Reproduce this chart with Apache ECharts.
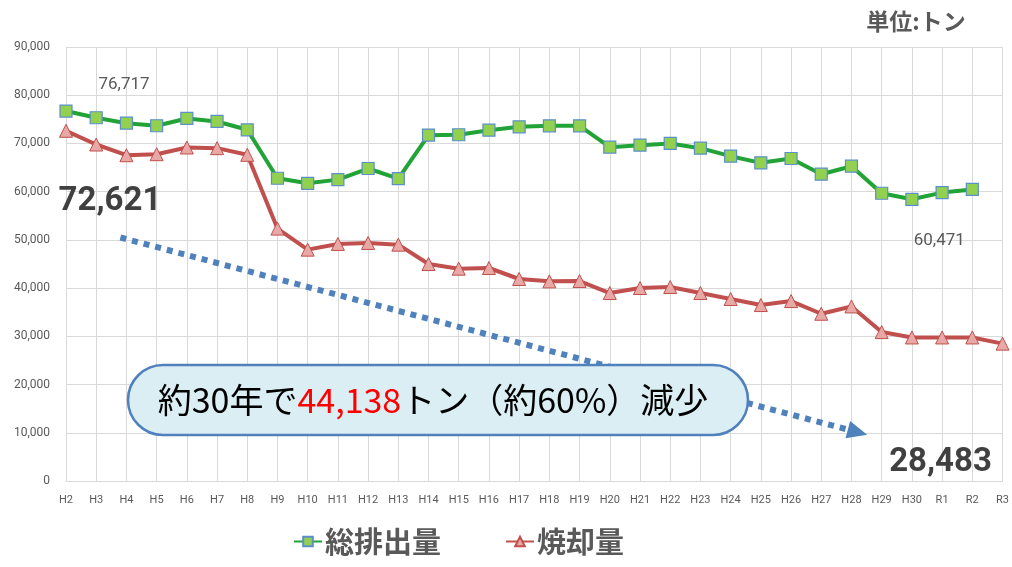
<!DOCTYPE html>
<html>
<head>
<meta charset="utf-8">
<script src="https://cdn.jsdelivr.net/npm/echarts@6/dist/echarts.min.js"></script>
<style>html,body{margin:0;padding:0;background:#fff}#c{width:1012px;height:567px}</style>
</head>
<body>
<div id="c"></div>
<script>
var categories = ['H2','H3','H4','H5','H6','H7','H8','H9','H10','H11','H12','H13','H14','H15','H16','H17','H18','H19','H20','H21','H22','H23','H24','H25','H26','H27','H28','H29','H30','R1','R2','R3'];
var totalEmission = [76717,75330,74200,73670,75180,74560,72830,62780,61740,62500,64800,62720,71720,71800,72750,73450,73660,73660,69230,69650,70000,69020,67360,65980,66880,63620,65280,59670,58420,59810,60471,null];
var incineration = [72621,69780,67560,67770,69160,69020,67640,52340,47980,49160,49370,49010,45000,44030,44170,41890,41400,41470,38980,40020,40230,38980,37740,36490,37320,34680,36200,30880,29770,29770,29770,28483];
var yTicks = {min:0, max:90000, interval:10000};

var FONT = '"Noto Sans CJK JP", "Noto Sans", sans-serif';
var chart = echarts.init(document.getElementById('c'), null, {renderer:'canvas'});

function labelled(arr, idxMap) {
  return arr.map(function(v, i){
    if (idxMap[i]) return {value: v, label: idxMap[i]};
    return v;
  });
}
var fmt = function(p){return p.value.toLocaleString('en-US');};
var smallLbl = {show:true, position:'inside', color:'#595959', fontSize:17, fontFamily:'Roboto, sans-serif', formatter:fmt};
var bigLbl = {show:true, position:'inside', color:'#404040', fontSize:33, fontWeight:'bold', fontFamily:'Roboto, sans-serif', formatter:fmt};

var greenMap = {};
greenMap[0] = Object.assign({}, smallLbl, {offset:[58,-26]});
greenMap[30] = Object.assign({}, smallLbl, {offset:[-33,51]});
var redMap = {};
redMap[0] = Object.assign({}, bigLbl, {offset:[44,71]});
redMap[31] = Object.assign({}, bigLbl, {offset:[-62,119]});

chart.setOption({
  animation:false,
  backgroundColor:'#fff',
  grid:{left:66, right:9, top:47, bottom:86, containLabel:false},
  legend:{
    bottom:6, left:288, itemGap:64, itemWidth:28, itemHeight:12,
    textStyle:{fontSize:29, color:'#595959', fontFamily:FONT, fontWeight:'bold', padding:[0,0,0,-2]},
    data:['総排出量','焼却量']
  },
  xAxis:{
    type:'category', data:categories, boundaryGap:false,
    axisLine:{show:true, lineStyle:{color:'#d9d9d9'}},
    axisTick:{show:false},
    axisLabel:{color:'#595959', fontSize:11, fontFamily:'Roboto, sans-serif', margin:14, interval:0},
    splitLine:{show:true, lineStyle:{color:'#d9d9d9', width:1}}
  },
  yAxis:{
    type:'value', min:yTicks.min, max:yTicks.max, interval:yTicks.interval,
    axisLine:{show:false}, axisTick:{show:false},
    axisLabel:{color:'#595959', fontSize:12, fontFamily:'Roboto, sans-serif', margin:16,
      formatter:function(v){return v.toLocaleString('en-US');}},
    splitLine:{show:true, lineStyle:{color:'#d9d9d9', width:1}}
  },
  series:[
    {name:'総排出量', type:'line', data:labelled(totalEmission, greenMap),
     symbol:'rect', symbolSize:12,
     lineStyle:{color:'#21a336', width:4},
     itemStyle:{color:'#92d050', borderColor:'#5b8fc9', borderWidth:1.2},
     label:{show:false}, z:3},
    {name:'焼却量', type:'line', data:labelled(incineration, redMap),
     symbol:'triangle', symbolSize:13,
     lineStyle:{color:'#c0504d', width:4},
     itemStyle:{color:'#e8a8a6', borderColor:'#c0504d', borderWidth:1},
     label:{show:false}, z:2}
  ]
});

// annotation arrow in data coordinates (fractional category positions interpolated)
function toPx(idx, val) {
  var i0 = Math.floor(idx), f = idx - i0;
  var p0 = chart.convertToPixel({gridIndex:0}, [i0, val]);
  var p1 = chart.convertToPixel({gridIndex:0}, [i0+1, val]);
  return [p0[0] + (p1[0]-p0[0])*f, p0[1]];
}
var a0 = toPx(1.8, 50500);
var a1 = toPx(26.52, 9600);
var dx = a1[0]-a0[0], dy = a1[1]-a0[1], len = Math.sqrt(dx*dx+dy*dy);
var ux = dx/len, uy = dy/len;
var headLen = 20, headW = 9;
var bx = a1[0]-ux*headLen, by = a1[1]-uy*headLen;
var px = -uy, py = ux;

chart.setOption({
  graphic:[
    {type:'line', z:10, shape:{x1:a0[0], y1:a0[1], x2:bx, y2:by},
     style:{stroke:'#4f81bd', lineWidth:6, lineDash:[6,6]}},
    {type:'polygon', z:10, shape:{points:[[a1[0],a1[1]],[bx+px*headW,by+py*headW],[bx-px*headW,by-py*headW]]},
     style:{fill:'#4f81bd'}},
    {type:'rect', z:20, shape:{x:128, y:365, width:620, height:70, r:35},
     style:{fill:'#daeef3', stroke:'#4f81bd', lineWidth:2.5}},
    {type:'text', z:21, x:433, y:400,
     style:{
       text:'{b|約30年で}{r|44,138}{b|トン（約60%）減少}',
       align:'center', verticalAlign:'middle',
       rich:{
         b:{fontSize:34, fill:'#000', fontFamily:FONT},
         r:{fontSize:34, fill:'#ff0000', fontFamily:FONT}
       }
     }},
    {type:'text', z:21, x:916, y:21,
     style:{text:'単位:トン', align:'center', verticalAlign:'middle', fontSize:23, fontWeight:'bold', fill:'#595959', fontFamily:FONT}}
  ]
});
</script>
</body>
</html>
